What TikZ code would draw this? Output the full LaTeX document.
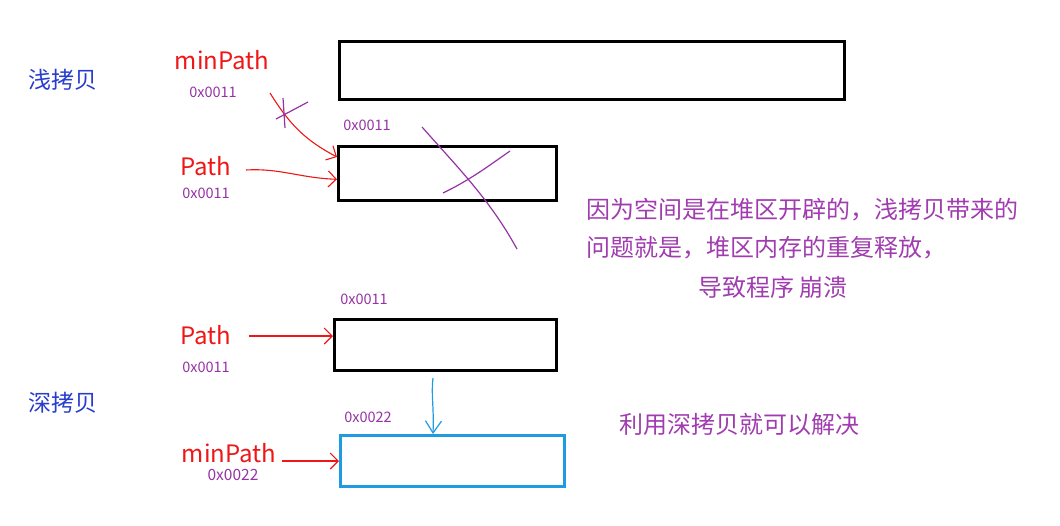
\documentclass[tikz,border=0pt]{standalone}
\usepackage{fontspec}
\setmainfont{Noto Sans CJK SC}
\usetikzlibrary{arrows.meta}
\definecolor{pred}{RGB}{238,22,22}
\definecolor{ppurp}{RGB}{150,50,165}
\definecolor{tpurp}{RGB}{160,60,175}
\definecolor{hblue}{RGB}{40,60,205}
\definecolor{bblue}{RGB}{30,155,225}
\tikzset{
  membox/.style={draw=black, line width=2.6pt, minimum width=#1, minimum height=56pt, anchor=north west, inner sep=0pt},
  varlbl/.style={text=pred, font=\fontsize{24}{27}\selectfont, inner sep=0pt},
  addr/.style={text=ppurp, font=\fontsize{14.5}{16}\selectfont, inner sep=0pt},
  head/.style={text=hblue, font=\fontsize{23}{26}\selectfont, inner sep=0pt},
  note/.style={text=tpurp, font=\fontsize{24}{28}\selectfont, inner sep=0pt, anchor=west},
  ptr/.style={draw=pred, line width=1.1pt, -{Straight Barb[length=8pt,width=16pt,line width=1.1pt]}},
  cross/.style={draw=ppurp, line width=1.2pt},
}
\begin{document}
\begin{tikzpicture}[x=1pt,y=-1pt]
\useasboundingbox (0,0) rectangle (1060,525);
% headings
\node[head] (h1) at (63,80) {浅拷贝};
\node[head] (h2) at (63,403) {深拷贝};
% boxes
\node[membox=505pt, minimum height=58pt] (b1) at (338,40) {};
\node[membox=218pt, minimum height=54pt] (b2) at (337,145) {};
\node[membox=222pt, minimum height=51pt] (b3) at (333,318) {};
\node[membox=224pt, minimum height=51pt, draw=bblue] (b4) at (339,434) {};
% labels (shallow)
\node[varlbl] (mp1) at (222,60) {minPath};
\node[addr] (a1) at (213,92) {0x0011};
\node[varlbl] (p1) at (206,166) {Path};
\node[addr] (a2) at (206,193) {0x0011};
\node[addr] (a3) at (367,125) {0x0011};
% labels (deep)
\node[addr] (a4) at (364,299) {0x0011};
\node[varlbl] (p2) at (206,335) {Path};
\node[addr] (a5) at (206,367) {0x0011};
\node[addr] (a6) at (368,417) {0x0022};
\node[varlbl] (mp2) at (229,453) {minPath};
\node[addr, font=\fontsize{15.5}{17}\selectfont] (a7) at (233,475) {0x0022};
% notes
\node[note] (n1) at (586,210) {因为空间是在堆区开辟的，浅拷贝带来的};
\node[note] (n2) at (586,248) {问题就是，堆区内存的重复释放，};
\node[note] (n3) at (698,287) {导致程序 崩溃};
\node[note] (n4) at (619,424) {利用深拷贝就可以解决};
% pointers
\coordinate (s1) at (270,93);
\draw[ptr] (s1) .. controls (290,125) and (305,140) .. ([yshift=-12pt]b2.north west);
\coordinate (s2) at (246,170);
\draw[ptr] (s2) .. controls (280,168) and (300,178) .. ([yshift=-6pt]b2.west);
\coordinate (s3) at (249,336);
\draw[ptr] (s3) -- (b3.west |- s3);
\coordinate (s4) at (282,461);
\draw[ptr] (s4) -- (b4.west |- s4);
\coordinate (s5) at (433,378);
\draw[draw=bblue, line width=1.2pt, -{Straight Barb[length=12pt,width=16pt,line width=1.2pt]}] (s5) .. controls (431,395) and (434,405) .. (b4.north -| s5);
% crosses
\draw[cross] (283,98) -- (285,128);
\draw[cross] (276,119) -- (308,102);
\draw[cross] (422,127) .. controls (460,170) and (490,200) .. (517,249);
\draw[cross] (443,193) .. controls (470,180) and (490,165) .. (510,151);
\end{tikzpicture}
\end{document}
